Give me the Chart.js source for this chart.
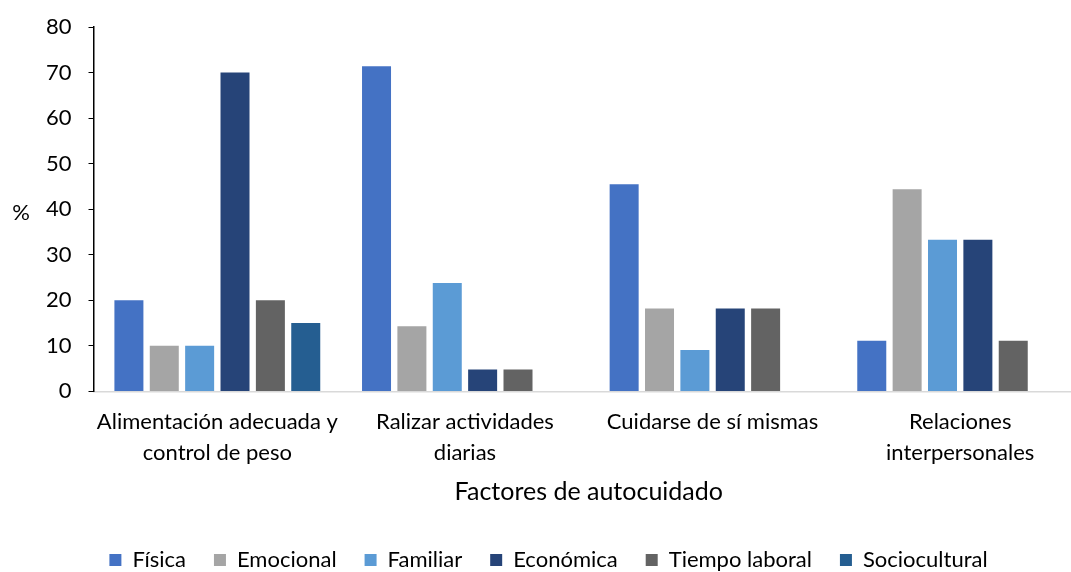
<!DOCTYPE html>
<html>
<head>
<meta charset="utf-8">
<script src="https://cdn.jsdelivr.net/npm/chart.js@4.4.1/dist/chart.umd.min.js"></script>
<style>
  html, body { margin: 0; padding: 0; background: #fff; overflow: hidden; width: 1071px; height: 572px; }
  #wrap { width: 1092px; height: 581px; }
</style>
</head>
<body>
<div id="wrap"><canvas id="c" width="1092" height="581"></canvas></div>
<script>
const categories = [
  ["Alimentación adecuada y", "control de peso"],
  ["Ralizar actividades", "diarias"],
  "Cuidarse de sí mismas",
  ["Relaciones", "interpersonales"]
];
const seriesNames = ["Física", "Emocional", "Familiar", "Económica", "Tiempo laboral", "Sociocultural"];
const fisica = [20, 71.4, 45.5, 11.1];
const emocional = [10, 14.3, 18.2, 44.4];
const familiar = [10, 23.8, 9.1, 33.3];
const economica = [70, 4.8, 18.2, 33.3];
const tiempoLaboral = [20, 4.8, 18.2, 11.1];
const sociocultural = [15, 0, 0, 0];
const yTicks = [0, 10, 20, 30, 40, 50, 60, 70, 80];

const colors = ["#4472C4", "#A5A5A5", "#5B9BD5", "#264478", "#636363", "#255E91"];
const seriesValues = [fisica, emocional, familiar, economica, tiempoLaboral, sociocultural];

const FONT = "Lato, 'Liberation Sans', sans-serif";

const yTitlePlugin = {
  id: 'yTitle',
  afterLayout(chart) {
    if (chart.legend) {
      chart.legend.left -= 8;
      chart.legend.right -= 8;
    }
  },
  afterDraw(chart) {
    const ctx = chart.ctx;
    ctx.save();
    ctx.font = "22px " + FONT;
    ctx.fillStyle = "#000";
    ctx.textAlign = "center";
    ctx.textBaseline = "middle";
    ctx.fillText("%", 21, chart.scales.y.getPixelForValue(40) + 4);
    ctx.restore();
  }
};

new Chart(document.getElementById('c'), {
  type: 'bar',
  data: {
    labels: categories,
    datasets: seriesNames.map((n, i) => ({
      label: n,
      data: seriesValues[i],
      backgroundColor: colors[i],
      borderWidth: 0,
      categoryPercentage: 0.857,
      barPercentage: 0.82
    }))
  },
  options: {
    responsive: false,
    animation: false,
    layout: { padding: { left: 29, right: 8, top: 27, bottom: 0 } },
    plugins: {
      legend: {
        position: 'bottom',
        labels: {
          font: { size: 22, family: FONT },
          color: '#000',
          usePointStyle: true,
          pointStyle: 'rect',
          boxWidth: 12,
          boxHeight: 12,
          padding: 28
        }
      },
      tooltip: { enabled: false },
      yTitle: {}
    },
    scales: {
      x: {
        grid: { display: false, drawTicks: false },
        border: { display: true, color: '#D9D9D9', width: 1.5 },
        ticks: {
          font: { size: 22, family: FONT, lineHeight: 1.4 },
          color: '#000',
          padding: 15,
          maxRotation: 0,
          autoSkip: false
        },
        title: {
          display: true,
          text: 'Factores de autocuidado',
          font: { size: 25, family: FONT, lineHeight: 1.2 },
          color: '#000',
          padding: { top: -6, bottom: 14 }
        }
      },
      y: {
        min: 0,
        max: 80,
        afterBuildTicks(axis) { axis.ticks = yTicks.map(v => ({ value: v })); },
        afterFit(axis) { axis.paddingTop = 0; },
        grid: { display: true, drawOnChartArea: false, drawTicks: true, tickLength: 5, color: '#000', tickColor: '#000' },
        border: { display: true, color: '#000', width: 1.5 },
        ticks: {
          font: { size: 22, family: FONT },
          color: '#000',
          padding: 17
        }
      }
    }
  },
  plugins: [yTitlePlugin]
});
</script>
</body>
</html>
